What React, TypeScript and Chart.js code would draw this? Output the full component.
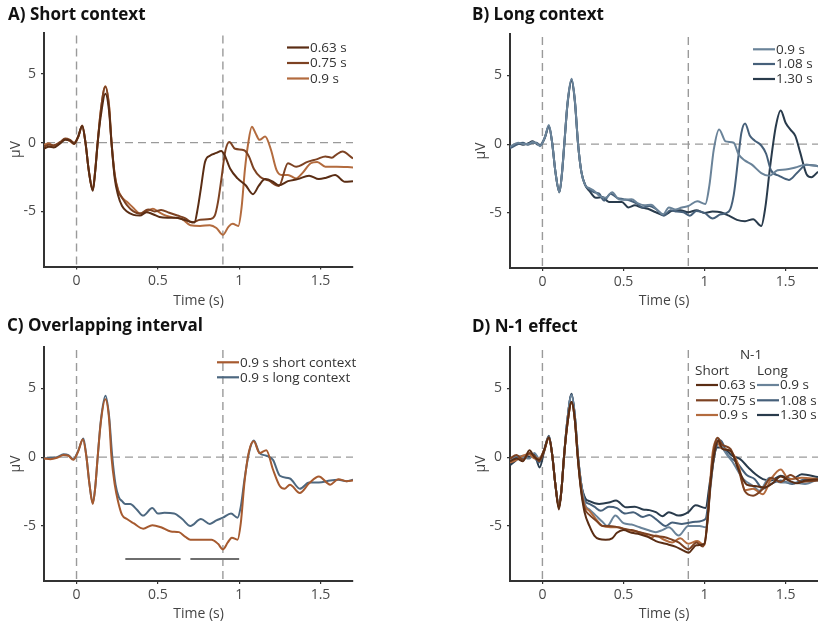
import React, { useEffect, useRef } from "react";
import { Chart, registerables } from "chart.js";
Chart.register(...registerables);

type P = [number, number][];

const X_TICKS = [0, 0.5, 1, 1.5];
const Y_TICKS = [-5, 0, 5];
const X_MIN = -0.2, X_MAX = 1.7, Y_MIN = -9, Y_MAX = 8;
const MARKERS_X = [0, 0.9];
const SIG_BARS: P = [[0.3, 0.64], [0.7, 1.0]];
const SIG_Y = -7.4;

// ---- Panel A: short context ----
const shortA063: P = [[-0.2,-0.45],[-0.17,-0.3],[-0.14,-0.35],[-0.1,-0.05],[-0.07,0.2],[-0.04,0.15],[-0.015,-0.1],[0.01,0.45],[0.035,1.2],[0.055,0.0],[0.075,-2.0],[0.1,-3.5],[0.115,-2.1],[0.13,0.0],[0.15,2.0],[0.177,3.55],[0.2,2.3],[0.215,0.0],[0.235,-2.6],[0.255,-3.8],[0.28,-4.6],[0.31,-5.0],[0.35,-5.25],[0.39,-5.3],[0.43,-5.05],[0.47,-5.2],[0.51,-5.4],[0.56,-5.45],[0.61,-5.45],[0.66,-5.6],[0.7,-5.75],[0.725,-5.8],[0.745,-4.8],[0.765,-3.3],[0.79,-1.4],[0.82,-0.95],[0.86,-0.75],[0.89,-0.6],[0.91,-0.9],[0.945,-1.9],[0.99,-2.6],[1.04,-3.1],[1.085,-3.75],[1.12,-3.15],[1.16,-2.65],[1.21,-2.85],[1.245,-3.1],[1.3,-2.8],[1.36,-2.65],[1.43,-2.4],[1.49,-2.65],[1.535,-2.55],[1.59,-2.35],[1.65,-2.85],[1.7,-2.8]];
const shortA075: P = [[-0.2,-0.3],[-0.17,-0.15],[-0.14,-0.2],[-0.1,0.05],[-0.07,0.3],[-0.04,0.2],[-0.015,0.0],[0.01,0.4],[0.035,1.25],[0.055,0.0],[0.075,-2.0],[0.1,-3.45],[0.115,-2.0],[0.13,0.0],[0.15,2.4],[0.177,4.05],[0.2,2.6],[0.215,0.0],[0.235,-2.4],[0.255,-3.5],[0.28,-4.0],[0.31,-4.55],[0.35,-5.0],[0.39,-5.15],[0.44,-4.85],[0.48,-5.0],[0.52,-4.9],[0.57,-5.1],[0.62,-5.3],[0.67,-5.5],[0.71,-5.8],[0.76,-5.6],[0.82,-5.55],[0.85,-5.3],[0.87,-4.3],[0.89,-2.7],[0.915,-0.6],[0.94,0.05],[0.975,-0.45],[1.03,-0.55],[1.06,-1.0],[1.09,-1.9],[1.13,-2.5],[1.18,-2.75],[1.245,-3.15],[1.3,-1.5],[1.35,-1.75],[1.42,-1.4],[1.48,-1.2],[1.53,-1.0],[1.57,-1.1],[1.6,-0.85],[1.635,-0.65],[1.7,-1.15]];
const shortA09: P = [[-0.2,-0.15],[-0.17,-0.05],[-0.14,-0.25],[-0.1,0.0],[-0.07,0.25],[-0.04,0.1],[-0.015,-0.1],[0.01,0.4],[0.035,1.2],[0.055,0.0],[0.075,-2.0],[0.1,-3.4],[0.115,-2.0],[0.13,0.0],[0.15,2.4],[0.177,4.1],[0.2,2.7],[0.215,0.1],[0.235,-2.3],[0.255,-3.4],[0.28,-4.0],[0.31,-4.3],[0.35,-4.75],[0.39,-5.15],[0.43,-5.0],[0.47,-4.8],[0.5,-5.0],[0.55,-5.3],[0.6,-5.45],[0.65,-5.55],[0.7,-6.0],[0.76,-6.05],[0.82,-6.0],[0.86,-6.2],[0.9,-6.7],[0.935,-6.1],[0.96,-5.9],[0.995,-6.05],[1.015,-4.7],[1.035,-2.0],[1.055,-0.1],[1.078,1.15],[1.1,0.7],[1.125,0.2],[1.16,0.45],[1.195,-0.5],[1.23,-2.0],[1.26,-2.35],[1.3,-2.35],[1.35,-2.6],[1.39,-2.2],[1.44,-1.5],[1.48,-1.4],[1.53,-1.75],[1.6,-1.75],[1.7,-1.8]];

// ---- Panel B: long context ----
const longB09: P = [[-0.2,-0.2],[-0.15,0.1],[-0.12,0.0],[-0.09,0.0],[-0.06,0.15],[-0.035,0.05],[-0.015,-0.15],[0.015,0.5],[0.04,1.38],[0.06,0.1],[0.08,-2.0],[0.105,-3.5],[0.12,-2.2],[0.135,0.0],[0.155,3.0],[0.18,4.75],[0.2,3.2],[0.22,0.0],[0.24,-2.0],[0.265,-3.0],[0.29,-3.2],[0.32,-3.4],[0.35,-3.75],[0.39,-3.9],[0.43,-3.5],[0.47,-4.0],[0.51,-4.05],[0.55,-4.0],[0.59,-4.3],[0.63,-4.45],[0.67,-4.4],[0.71,-4.8],[0.745,-5.1],[0.78,-4.6],[0.82,-4.75],[0.86,-4.6],[0.9,-4.5],[0.955,-4.15],[1.005,-4.35],[1.03,-3.0],[1.057,-0.4],[1.09,1.07],[1.13,0.2],[1.18,0.1],[1.21,-0.74],[1.25,-1.2],[1.29,-1.47],[1.35,-2.1],[1.4,-2.3],[1.45,-1.9],[1.5,-1.85],[1.56,-1.7],[1.62,-1.5],[1.7,-1.6]];
const longB108: P = [[-0.2,-0.3],[-0.15,0.0],[-0.12,0.1],[-0.09,-0.05],[-0.06,0.1],[-0.035,0.1],[-0.015,-0.1],[0.015,0.5],[0.04,1.3],[0.06,0.1],[0.08,-2.0],[0.105,-3.45],[0.12,-2.2],[0.135,0.0],[0.155,3.0],[0.18,4.7],[0.2,3.2],[0.22,0.0],[0.24,-2.0],[0.265,-3.0],[0.29,-3.3],[0.32,-3.5],[0.35,-3.6],[0.38,-4.1],[0.42,-3.6],[0.46,-3.9],[0.5,-4.0],[0.54,-4.1],[0.58,-4.3],[0.62,-4.6],[0.66,-4.5],[0.7,-4.7],[0.75,-5.2],[0.79,-4.8],[0.83,-4.9],[0.87,-4.95],[0.91,-5.2],[0.95,-4.85],[1.0,-5.0],[1.05,-5.4],[1.1,-5.1],[1.15,-4.9],[1.18,-3.7],[1.21,-0.8],[1.227,0.8],[1.25,1.5],[1.28,0.6],[1.31,0.25],[1.35,-0.1],[1.38,-0.7],[1.41,-1.9],[1.46,-2.3],[1.52,-2.6],[1.57,-2.1],[1.63,-1.5],[1.7,-1.6]];
const longB130: P = [[-0.2,-0.25],[-0.15,0.05],[-0.12,-0.05],[-0.09,0.05],[-0.06,0.2],[-0.035,0.0],[-0.015,-0.1],[0.015,0.45],[0.04,1.3],[0.06,0.1],[0.08,-2.0],[0.105,-3.5],[0.12,-2.2],[0.135,0.0],[0.155,2.9],[0.18,4.6],[0.2,3.1],[0.22,0.0],[0.24,-2.0],[0.265,-3.0],[0.29,-3.4],[0.33,-3.9],[0.37,-3.85],[0.41,-4.2],[0.45,-4.2],[0.49,-4.2],[0.53,-4.6],[0.57,-4.45],[0.61,-4.6],[0.65,-4.7],[0.7,-4.95],[0.75,-5.15],[0.8,-4.85],[0.85,-4.8],[0.9,-4.95],[0.95,-4.8],[1.0,-5.0],[1.05,-4.9],[1.1,-4.95],[1.15,-5.2],[1.2,-5.5],[1.25,-5.6],[1.3,-5.45],[1.35,-5.95],[1.375,-4.6],[1.405,-1.6],[1.44,1.3],[1.47,2.45],[1.5,1.55],[1.53,1.05],[1.56,0.6],[1.59,-0.6],[1.63,-2.2],[1.66,-2.4],[1.7,-2.0]];

// ---- Panel C: overlapping interval ----
const overShort: P = [[-0.2,-0.1],[-0.16,-0.15],[-0.12,-0.05],[-0.08,0.15],[-0.05,0.1],[-0.02,-0.2],[0.01,0.4],[0.039,1.3],[0.06,0.1],[0.08,-2.0],[0.1,-3.4],[0.115,-2.2],[0.13,0.0],[0.15,2.6],[0.177,4.2],[0.2,2.8],[0.215,0.0],[0.235,-2.0],[0.255,-3.2],[0.28,-4.2],[0.31,-4.5],[0.35,-4.8],[0.41,-5.2],[0.466,-4.95],[0.52,-5.1],[0.58,-5.4],[0.63,-5.45],[0.67,-5.8],[0.7,-6.0],[0.765,-6.0],[0.83,-6.0],[0.87,-6.3],[0.9,-6.7],[0.93,-6.2],[0.955,-5.85],[0.99,-6.0],[1.01,-4.8],[1.033,-1.8],[1.06,0.4],[1.09,1.15],[1.125,0.3],[1.167,0.5],[1.208,-0.9],[1.25,-2.1],[1.28,-2.3],[1.312,-2.0],[1.373,-2.6],[1.43,-1.9],[1.49,-1.4],[1.56,-2.0],[1.61,-1.6],[1.66,-1.75],[1.7,-1.7]];
const overLong: P = [[-0.2,-0.1],[-0.16,-0.05],[-0.12,0.0],[-0.08,0.2],[-0.05,0.15],[-0.02,-0.15],[0.01,0.45],[0.042,1.35],[0.06,0.1],[0.08,-2.0],[0.1,-3.35],[0.115,-2.2],[0.13,0.0],[0.15,2.7],[0.178,4.45],[0.2,3.0],[0.22,0.0],[0.24,-2.0],[0.26,-2.9],[0.28,-3.2],[0.3,-3.4],[0.33,-3.4],[0.37,-3.8],[0.41,-4.25],[0.466,-3.7],[0.5,-4.1],[0.54,-4.05],[0.6,-4.1],[0.65,-4.5],[0.7,-5.0],[0.765,-4.5],[0.82,-4.85],[0.86,-4.6],[0.9,-4.4],[0.95,-4.1],[0.99,-4.4],[1.01,-3.6],[1.033,-1.6],[1.06,0.3],[1.09,1.2],[1.125,0.3],[1.167,0.1],[1.208,-0.2],[1.25,-1.35],[1.312,-1.55],[1.373,-2.3],[1.43,-1.85],[1.49,-1.85],[1.56,-1.7],[1.61,-1.65],[1.66,-1.75],[1.7,-1.65]];

// ---- Panel D: N-1 effect ----
const nShort063: P = [[-0.2,-0.3],[-0.16,-0.1],[-0.12,-0.3],[-0.08,0.5],[-0.05,0.0],[-0.02,-0.2],[0.01,0.5],[0.04,1.45],[0.06,0.2],[0.08,-2.0],[0.102,-3.8],[0.118,-2.3],[0.133,0.0],[0.153,2.3],[0.18,4.0],[0.2,2.7],[0.218,0.0],[0.238,-2.4],[0.26,-4.0],[0.29,-5.0],[0.32,-5.7],[0.35,-5.95],[0.39,-6.0],[0.43,-5.9],[0.46,-5.5],[0.5,-5.3],[0.55,-5.5],[0.6,-5.6],[0.65,-5.8],[0.7,-6.1],[0.76,-6.3],[0.82,-6.5],[0.87,-6.8],[0.9,-6.95],[0.95,-6.4],[1.0,-6.3],[1.036,-2.0],[1.06,0.2],[1.085,1.2],[1.11,0.6],[1.16,0.45],[1.21,-0.9],[1.26,-2.0],[1.31,-2.1],[1.37,-2.2],[1.42,-1.9],[1.47,-1.4],[1.52,-1.7],[1.57,-1.9],[1.62,-1.7],[1.7,-1.6]];
const nShort075: P = [[-0.2,-0.1],[-0.16,0.15],[-0.12,-0.2],[-0.08,0.3],[-0.05,0.1],[-0.02,-0.3],[0.01,0.4],[0.04,1.4],[0.06,0.2],[0.08,-2.0],[0.102,-3.7],[0.118,-2.3],[0.133,0.0],[0.153,2.3],[0.18,4.0],[0.2,2.7],[0.218,0.0],[0.238,-2.3],[0.26,-3.7],[0.29,-4.2],[0.33,-4.6],[0.37,-5.0],[0.41,-5.0],[0.45,-5.05],[0.5,-5.2],[0.55,-5.3],[0.6,-5.45],[0.65,-5.6],[0.7,-5.75],[0.75,-5.8],[0.8,-6.0],[0.84,-6.2],[0.9,-6.7],[0.95,-6.2],[0.99,-6.5],[1.02,-4.5],[1.045,-0.6],[1.065,1.0],[1.08,1.4],[1.11,0.9],[1.16,0.6],[1.21,-0.9],[1.25,-2.5],[1.3,-2.8],[1.36,-2.3],[1.41,-1.5],[1.47,-1.8],[1.53,-1.3],[1.6,-1.8],[1.7,-1.7]];
const nShort09: P = [[-0.2,-0.4],[-0.16,-0.2],[-0.12,0.1],[-0.08,0.2],[-0.05,-0.1],[-0.02,-0.1],[0.01,0.5],[0.04,1.4],[0.06,0.2],[0.08,-2.0],[0.102,-3.6],[0.118,-2.3],[0.133,0.0],[0.153,2.3],[0.18,3.95],[0.2,2.7],[0.218,0.0],[0.238,-2.2],[0.26,-3.5],[0.29,-3.9],[0.33,-4.5],[0.37,-5.0],[0.42,-5.1],[0.47,-5.1],[0.52,-5.3],[0.58,-5.4],[0.63,-5.6],[0.67,-5.85],[0.7,-5.7],[0.75,-6.0],[0.8,-6.2],[0.85,-5.9],[0.9,-6.3],[0.955,-6.1],[1.0,-6.4],[1.02,-4.3],[1.05,0.3],[1.075,1.2],[1.1,0.7],[1.16,0.45],[1.21,-0.6],[1.25,-2.4],[1.3,-2.3],[1.36,-2.7],[1.41,-1.6],[1.47,-0.9],[1.52,-1.6],[1.6,-1.5],[1.7,-1.6]];
const nLong09: P = [[-0.2,-0.2],[-0.16,0.1],[-0.12,0.0],[-0.08,-0.1],[-0.05,0.3],[-0.02,-0.1],[0.01,0.5],[0.04,1.5],[0.06,0.2],[0.08,-2.0],[0.102,-3.6],[0.118,-2.3],[0.133,0.0],[0.153,2.6],[0.18,4.5],[0.2,3.0],[0.22,0.0],[0.24,-2.0],[0.265,-3.5],[0.29,-3.8],[0.33,-4.25],[0.37,-4.7],[0.4,-5.0],[0.45,-4.25],[0.5,-4.8],[0.55,-4.9],[0.6,-5.1],[0.65,-5.3],[0.7,-5.45],[0.74,-5.3],[0.78,-5.1],[0.84,-5.7],[0.9,-5.0],[0.97,-5.0],[1.006,-5.1],[1.036,-2.3],[1.06,0.3],[1.089,1.3],[1.12,0.5],[1.17,-0.3],[1.24,-1.6],[1.3,-2.1],[1.34,-2.45],[1.4,-1.5],[1.47,-1.85],[1.55,-1.85],[1.62,-1.95],[1.7,-1.6]];
const nLong108: P = [[-0.2,-0.4],[-0.16,0.0],[-0.12,-0.1],[-0.08,0.2],[-0.05,0.0],[-0.02,-0.4],[0.01,0.5],[0.04,1.5],[0.06,0.2],[0.08,-2.0],[0.102,-3.55],[0.118,-2.3],[0.133,0.0],[0.153,2.6],[0.18,4.55],[0.2,3.0],[0.22,0.0],[0.24,-2.0],[0.265,-3.2],[0.29,-3.4],[0.32,-3.6],[0.36,-3.9],[0.41,-3.6],[0.46,-3.7],[0.51,-4.1],[0.56,-4.0],[0.62,-4.35],[0.66,-4.2],[0.7,-4.5],[0.76,-5.0],[0.8,-4.75],[0.86,-4.85],[0.945,-4.7],[1.006,-4.5],[1.036,-2.0],[1.065,0.4],[1.1,1.2],[1.14,0.2],[1.2,-0.4],[1.26,-1.3],[1.31,-1.6],[1.36,-2.3],[1.41,-1.95],[1.47,-1.7],[1.54,-1.95],[1.62,-1.6],[1.7,-1.7]];
const nLong130: P = [[-0.2,-0.6],[-0.16,-0.2],[-0.12,0.1],[-0.08,0.0],[-0.05,0.2],[-0.017,-0.75],[0.01,0.4],[0.04,1.55],[0.06,0.2],[0.08,-2.0],[0.102,-3.6],[0.118,-2.3],[0.133,0.0],[0.153,2.6],[0.18,4.6],[0.2,3.0],[0.22,0.0],[0.24,-2.0],[0.265,-3.0],[0.29,-3.2],[0.35,-3.4],[0.41,-3.3],[0.454,-3.15],[0.515,-3.65],[0.57,-3.6],[0.62,-3.8],[0.66,-3.85],[0.7,-4.0],[0.74,-4.3],[0.78,-4.0],[0.84,-4.25],[0.9,-4.0],[0.945,-3.5],[1.006,-3.7],[1.036,-1.6],[1.078,0.7],[1.11,0.7],[1.17,0.1],[1.22,-0.15],[1.27,-0.75],[1.315,-1.25],[1.36,-1.6],[1.41,-1.7],[1.47,-1.35],[1.54,-1.6],[1.6,-1.25],[1.7,-1.45]];

const BR1 = "#5a2d14", BR2 = "#7d4222", BR3 = "#b36b3e";
const BL1 = "#6a8399", BL2 = "#46607a", BL3 = "#293b4c";
const C_OR = "#a65a2f", C_BL = "#4d6880";

const FONT = '"Open Sans", "Noto Sans", sans-serif';

type Series = { label: string; data: P; color: string; lx?: number; ly?: number };
type Cfg = {
  left: number; top: number;
  title: string; titleX: number; titleY: number;
  padTop: number; padRight: number; yW: number; xH: number; yLabelX: number;
  series: Series[];
  extras?: { text: string; x: number; y: number; align: CanvasTextAlign }[];
  bars?: boolean;
};

const panels: Cfg[] = [
  { left: 0, top: 0, title: "A) Short context", titleX: 8, titleY: 19.5, padTop: 32.5, padRight: 56, yW: 44, xH: 46.5, yLabelX: 16,
    series: [
      { label: "0.63 s", data: shortA063, color: BR1, lx: 287, ly: 47.5 },
      { label: "0.75 s", data: shortA075, color: BR2, lx: 287, ly: 63 },
      { label: "0.9 s", data: shortA09, color: BR3, lx: 287, ly: 78.5 },
    ] },
  { left: 409, top: 0, title: "B) Long context", titleX: 63, titleY: 19.5, padTop: 34, padRight: 0, yW: 101, xH: 45, yLabelX: 72,
    series: [
      { label: "0.9 s", data: longB09, color: BL1, lx: 344, ly: 49.3 },
      { label: "1.08 s", data: longB108, color: BL2, lx: 344, ly: 64 },
      { label: "1.30 s", data: longB130, color: BL3, lx: 344, ly: 79 },
    ] },
  { left: 0, top: 313, title: "C) Overlapping interval", titleX: 7, titleY: 17.5, padTop: 34, padRight: 56, yW: 44, xH: 45, yLabelX: 16, bars: true,
    series: [
      { label: "0.9 s short context", data: overShort, color: C_OR, lx: 217, ly: 49.3 },
      { label: "0.9 s long context", data: overLong, color: C_BL, lx: 217, ly: 64.3 },
    ] },
  { left: 409, top: 313, title: "D) N-1 effect", titleX: 63, titleY: 18.5, padTop: 34, padRight: 0, yW: 101, xH: 45, yLabelX: 72,
    extras: [
      { text: "N-1", x: 342, y: 41.7, align: "center" },
      { text: "Short", x: 286, y: 57.7, align: "left" },
      { text: "Long", x: 348, y: 57.7, align: "left" },
    ],
    series: [
      { label: "0.63 s", data: nShort063, color: BR1, lx: 287, ly: 72 },
      { label: "0.75 s", data: nShort075, color: BR2, lx: 287, ly: 87.3 },
      { label: "0.9 s", data: nShort09, color: BR3, lx: 287, ly: 102 },
      { label: "0.9 s", data: nLong09, color: BL1, lx: 348, ly: 72 },
      { label: "1.08 s", data: nLong108, color: BL2, lx: 348, ly: 87.3 },
      { label: "1.30 s", data: nLong130, color: BL3, lx: 348, ly: 102 },
    ] },
];

function makeDecor(cfg: Cfg) {
  return {
    id: "decor",
    beforeDatasetsDraw(chart: any) {
      const { ctx, chartArea: a, scales } = chart;
      const x = scales.x, y = scales.y;
      ctx.save();
      ctx.strokeStyle = "#9a9a9a";
      ctx.lineWidth = 1.4;
      ctx.setLineDash([8, 5]);
      MARKERS_X.forEach((m) => {
        const px = x.getPixelForValue(m);
        ctx.beginPath(); ctx.moveTo(px, a.top + 3); ctx.lineTo(px, a.bottom); ctx.stroke();
      });
      const py = y.getPixelForValue(0);
      ctx.beginPath(); ctx.moveTo(a.left + 3, py); ctx.lineTo(a.right, py); ctx.stroke();
      ctx.setLineDash([]);
      if (cfg.bars) {
        ctx.strokeStyle = "#6e6e6e";
        ctx.lineWidth = 2;
        const by = y.getPixelForValue(SIG_Y);
        SIG_BARS.forEach(([s, e]) => {
          ctx.beginPath(); ctx.moveTo(x.getPixelForValue(s), by); ctx.lineTo(x.getPixelForValue(e), by); ctx.stroke();
        });
      }
      ctx.restore();
    },
    afterDraw(chart: any) {
      const { ctx, chartArea: a } = chart;
      ctx.save();
      ctx.fillStyle = "#111";
      ctx.font = `bold 17px ${FONT}`;
      ctx.textAlign = "left";
      ctx.textBaseline = "alphabetic";
      ctx.fillText(cfg.title, cfg.titleX, cfg.titleY);
      ctx.fillStyle = "#444";
      ctx.font = `14px ${FONT}`;
      ctx.textAlign = "center";
      ctx.textBaseline = "middle";
      ctx.fillText("Time (s)", (a.left + a.right) / 2, 301);
      ctx.save();
      ctx.translate(cfg.yLabelX, (a.top + a.bottom) / 2);
      ctx.rotate(-Math.PI / 2);
      ctx.fillText("µV", 0, 0);
      ctx.restore();
      ctx.font = `13.5px ${FONT}`;
      ctx.fillStyle = "#333";
      (cfg.extras || []).forEach((e) => {
        ctx.textAlign = e.align;
        ctx.fillText(e.text, e.x, e.y);
      });
      ctx.textAlign = "left";
      cfg.series.forEach((s) => {
        if (s.lx == null || s.ly == null) return;
        ctx.strokeStyle = s.color;
        ctx.lineWidth = 2.2;
        ctx.beginPath(); ctx.moveTo(s.lx, s.ly); ctx.lineTo(s.lx + 22, s.ly); ctx.stroke();
        ctx.fillStyle = "#333";
        ctx.fillText(s.label, s.lx + 23, s.ly + 0.5);
      });
      ctx.restore();
    },
  };
}

function Panel({ cfg }: { cfg: Cfg }) {
  const ref = useRef<HTMLCanvasElement>(null);
  useEffect(() => {
    const tickFont = { family: FONT, size: 14 };
    const chart = new Chart(ref.current as HTMLCanvasElement, {
      type: "line",
      data: {
        datasets: cfg.series.map((s) => ({
          label: s.label,
          data: s.data.map(([x, y]) => ({ x, y })),
          borderColor: s.color,
          backgroundColor: s.color,
          borderWidth: 2,
          pointRadius: 0,
          cubicInterpolationMode: "monotone" as const,
          fill: false,
        })),
      },
      options: {
        animation: false,
        responsive: false,
        maintainAspectRatio: false,
        events: [],
        layout: { padding: { top: cfg.padTop, right: cfg.padRight, left: 0, bottom: 0 } },
        plugins: { legend: { display: false }, tooltip: { enabled: false }, title: { display: false } },
        scales: {
          x: {
            type: "linear", min: X_MIN, max: X_MAX,
            afterBuildTicks: (s: any) => { s.ticks = X_TICKS.map((v) => ({ value: v })); },
            afterFit: (s: any) => { s.height = cfg.xH; },
            ticks: { font: tickFont, color: "#4a4a4a", padding: 3, maxRotation: 0, callback: (v: any) => String(v) },
            grid: { drawOnChartArea: false, drawTicks: true, tickLength: 3, color: "#333", lineWidth: 1.2 },
            border: { color: "#333", width: 2 },
          },
          y: {
            type: "linear", min: Y_MIN, max: Y_MAX,
            afterBuildTicks: (s: any) => { s.ticks = Y_TICKS.map((v) => ({ value: v })); },
            afterFit: (s: any) => { s.width = cfg.yW; },
            ticks: { font: tickFont, color: "#4a4a4a", padding: 5, callback: (v: any) => String(v) },
            grid: { drawOnChartArea: false, drawTicks: true, tickLength: 3, color: "#333", lineWidth: 1.2 },
            border: { color: "#333", width: 2 },
          },
        },
      } as any,
      plugins: [makeDecor(cfg)],
    });
    return () => chart.destroy();
  }, []);
  return (
    <canvas
      ref={ref}
      width={409}
      height={313}
      style={{ position: "absolute", left: cfg.left, top: cfg.top, width: 409, height: 313 }}
    />
  );
}

export default function App() {
  return (
    <div style={{ position: "absolute", left: 0, top: 0, width: 818, height: 626, background: "#fff", overflow: "hidden" }}>
      {panels.map((p, i) => (
        <Panel key={i} cfg={p} />
      ))}
    </div>
  );
}
